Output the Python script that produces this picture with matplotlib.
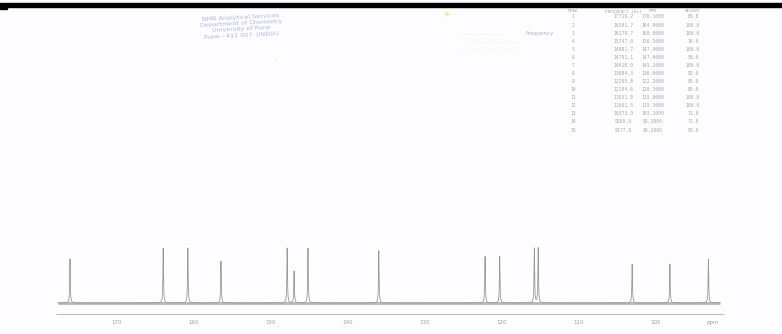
import numpy as np
import matplotlib
matplotlib.use("Agg")
import matplotlib.pyplot as plt
from matplotlib.patches import Rectangle

# 13C peak list (chemical shift in ppm, relative height in %)
peak_ppm = [176.1, 164.0, 160.8, 156.5, 147.9, 147.0, 145.2, 136.0,
            122.2, 120.3, 115.8, 115.3, 103.1, 98.2, 93.2]
peak_height = [80, 100, 100, 76, 100, 58, 100, 95,
               85, 85, 100, 100, 71, 71, 80]
tick_ppm = [170, 160, 150, 140, 130, 120, 110, 100]
tick_labels = ["170", "160", "150", "140", "130", "120", "110", "100"]
spectrometer_mhz = 100.62

stamp_lines = ["NMR Analytical Services", "Department of Chemistry",
               "University of Pune", "Pune - 411 007. (INDIA)"]
table_header = ["PEAK", "FREQUENCY [Hz]", "PPM", "HEIGHT"]

fig = plt.figure(figsize=(7.82, 3.34), dpi=100)
fig.patch.set_facecolor("#fdfdff")

# spectrum axes cover the whole canvas
ax = fig.add_axes([0, 0, 1, 1])
ax.set_xlim(185.19, 83.64)
ax.set_ylim(-56.4, 550.9)
ax.axis("off")

# Lorentzian line shapes built from the peak list
ppm = np.linspace(177.7, 91.7, 12000)
hw = 0.045
spec = np.zeros_like(ppm)
for p, h in zip(peak_ppm, peak_height):
    spec += h * hw**2 / ((ppm - p) ** 2 + hw**2)
ax.hlines(0, 177.7, 91.7, color="#707070", lw=2.0, alpha=0.5)
ax.plot(ppm, spec, color="#9a9a9a", lw=0.6)

# ppm axis
ax.hlines(-20, 177.9, 91.2, color="#bdbdbd", lw=0.8)
for t, lab in zip(tick_ppm, tick_labels):
    ax.text(t, -35, lab, ha="center", va="center", fontsize=4,
            color="#a0a0a0")
ax.text(92.6, -35, "ppm", ha="center", va="center", fontsize=4,
        color="#a0a0a0")

# black rule at the top
fig.patches.append(Rectangle((0, 1 - 7 / 334), 1, 4 / 334,
                             transform=fig.transFigure, color="black"))
fig.patches.append(Rectangle((0, 1 - 8.5 / 334), 7 / 782, 3 / 334,
                             transform=fig.transFigure, color="black"))

# laboratory stamp
for i, line in enumerate(stamp_lines):
    fig.text(241 / 782, 1 - (17 + 6.2 * i) / 334, line, ha="center",
             va="center", fontsize=4.6, color="#9aa0dc", rotation=3,
             alpha=0.8)
fig.text(275 / 782, 1 - 62 / 334, "·", ha="center", va="center",
         fontsize=6, color="#b0b4e0")
fig.text(447 / 782, 1 - 13 / 334, "▲", ha="center", va="center",
         fontsize=5, color="#f3eb9a", rotation=30)

# acquisition notes left of the table
fig.text(460 / 782, 1 - 34 / 334, "- - - - - - - - - - - - - -", fontsize=3.5,
         color="#d6d6de", va="center")
fig.text(525 / 782, 1 - 34 / 334, "Frequency", fontsize=4, color="#aeb2d8",
         va="center")
fig.text(470 / 782, 1 - 42 / 334, "- - - - - - - - - - - - - - - -",
         fontsize=3.5, color="#e3e3ea", va="center")
fig.text(460 / 782, 1 - 50 / 334, "- - - - - - - - - - - - - - - - -",
         fontsize=3.5, color="#e6e6ec", va="center")

# peak table
col_x = [573, 623, 653, 693]
fig_h = 334
for x, h in zip(col_x, table_header):
    fig.text(x / 782, 1 - 11 / fig_h, h, ha="center", va="center",
             fontsize=3.2, color="#a8a8a8", family="DejaVu Sans Mono")
n = len(peak_ppm)
row_step = (130 - 17) / (n - 1)
for i, (p, h) in enumerate(zip(peak_ppm, peak_height)):
    y = 1 - (17 + row_step * i) / fig_h
    vals = [str(i + 1), f"{p * spectrometer_mhz:.1f}", f"{p:.4f}",
            f"{h:.1f}"]
    for x, v in zip(col_x, vals):
        fig.text(x / 782, y, v, ha="center", va="center", fontsize=3.4,
                 color="#a8a8a8", family="DejaVu Sans Mono")

fig.savefig("out.png", dpi=100, facecolor=fig.get_facecolor())
